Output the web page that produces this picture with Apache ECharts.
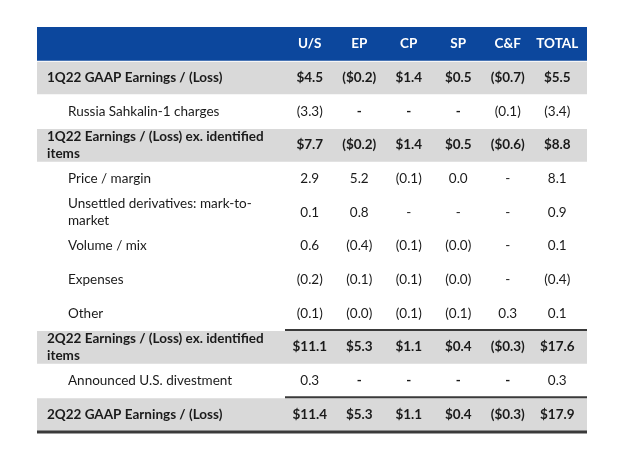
<!DOCTYPE html>
<html>
<head>
<meta charset="utf-8">
<script src="https://cdn.jsdelivr.net/npm/echarts@6/dist/echarts.min.js"></script>
<style>html,body{margin:0;padding:0;background:#fff}#c{width:640px;height:474px}</style>
</head>
<body>
<div id="c"></div>
<script>
// ---- data ----
const columns = ['U/S', 'EP', 'CP', 'SP', 'C&F', 'TOTAL'];
const rowLabels = [
  '1Q22 GAAP Earnings / (Loss)',
  'Russia Sahkalin-1 charges',
  '1Q22 Earnings / (Loss) ex. identified\nitems',
  'Price / margin',
  'Unsettled derivatives: mark-to-\nmarket',
  'Volume / mix',
  'Expenses',
  'Other',
  '2Q22 Earnings / (Loss) ex. identified\nitems',
  'Announced U.S. divestment',
  '2Q22 GAAP Earnings / (Loss)'
];
const rowIsTotal = [true, false, true, false, false, false, false, false, true, false, true];
const rowIsIdentified = [false, true, false, false, false, false, false, false, false, true, false];
const rowLineAbove = [false, false, false, false, false, false, false, false, true, false, true];

const gaap1Q22 = [4.5, -0.2, 1.4, 0.5, -0.7, 5.5];
const russiaSakhalin = [-3.3, null, null, null, -0.1, -3.4];
const exItems1Q22 = [7.7, -0.2, 1.4, 0.5, -0.6, 8.8];
const priceMargin = [2.9, 5.2, -0.1, 0.0, null, 8.1];
const unsettledDerivatives = [0.1, 0.8, null, null, null, 0.9];
const volumeMix = [0.6, -0.4, -0.1, -0.0, null, 0.1];
const expenses = [-0.2, -0.1, -0.1, -0.0, null, -0.4];
const other = [-0.1, -0.0, -0.1, -0.1, 0.3, 0.1];
const exItems2Q22 = [11.1, 5.3, 1.1, 0.4, -0.3, 17.6];
const usDivestment = [0.3, null, null, null, null, 0.3];
const gaap2Q22 = [11.4, 5.3, 1.1, 0.4, -0.3, 17.9];

const rowValues = [gaap1Q22, russiaSakhalin, exItems1Q22, priceMargin, unsettledDerivatives,
  volumeMix, expenses, other, exItems2Q22, usDivestment, gaap2Q22];

// ---- styling ----
const FONT = 'Lato';
const BLUE = '#0c479d';
const GRAY = '#d9d9d9';
const TEXT = '#1a1a1a';
const LINE = '#3a3a3a';

const mctx = document.createElement('canvas').getContext('2d');
mctx.font = 'bold 100px ' + FONT;
const refW = mctx.measureText('2Q22 Earnings / (Loss) ex. identified').width;
const FS = Math.round(100 * 215 / refW * 4) / 4;

function fmt(v, total) {
  if (v === null) return '-';
  const neg = v < 0 || Object.is(v, -0);
  const s = (total ? '$' : '') + Math.abs(v).toFixed(1);
  return neg ? '(' + s + ')' : s;
}

const yCats = ['header'].concat(rowLabels);

const rowData = yCats.map((_, i) => [0, i]);
const cellData = [];
columns.forEach((c, ci) => cellData.push([ci, 0, c]));
rowValues.forEach((vals, ri) => {
  vals.forEach((v, ci) => cellData.push([ci, ri + 1, fmt(v, rowIsTotal[ri])]));
});

const LABEL_COL = 248;   // width of label column left of the value grid
const RIGHT_PAD = 5;

const chart = echarts.init(document.getElementById('c'), null, {renderer: 'canvas'});
chart.setOption({
  animation: false,
  grid: {left: 285, right: 58, top: 27, height: 404},
  xAxis: {type: 'category', data: columns, show: false},
  yAxis: {type: 'category', data: yCats, inverse: true, show: false},
  series: [
    {
      type: 'custom',
      data: rowData,
      z: 1,
      renderItem: function (params, api) {
        const i = api.value(1);
        const cs = params.coordSys;
        const yc = api.coord([0, i])[1];
        const h = api.size([0, 1])[1];
        const top = yc - h / 2;
        const x0 = cs.x - LABEL_COL;
        const x1 = cs.x + cs.width + RIGHT_PAD;
        const children = [];
        if (i === 0) {
          children.push({type: 'rect', shape: {x: x0, y: top, width: x1 - x0, height: h}, style: {fill: BLUE}});
          return {type: 'group', children: children};
        }
        const r = i - 1;
        if (rowIsTotal[r]) {
          children.push({type: 'rect', shape: {x: x0, y: top + 1, width: x1 - x0, height: h - 1}, style: {fill: GRAY}});
        }
        if (rowLineAbove[r]) {
          children.push({type: 'line', shape: {x1: cs.x, y1: top, x2: x1, y2: top}, style: {stroke: LINE, lineWidth: 2}});
        }
        if (r === rowLabels.length - 1) {
          children.push({type: 'line', shape: {x1: x0, y1: top + h + 1, x2: x1, y2: top + h + 1}, style: {stroke: LINE, lineWidth: 3}});
        }
        children.push({
          type: 'text',
          style: {
            x: x0 + (rowIsTotal[r] ? 10 : 31),
            y: yc,
            text: rowLabels[r],
            fill: TEXT,
            font: (rowIsTotal[r] ? 'bold ' : '') + FS + 'px ' + FONT,
            lineHeight: 17,
            align: 'left',
            verticalAlign: 'middle'
          }
        });
        return {type: 'group', children: children};
      }
    },
    {
      type: 'custom',
      data: cellData,
      z: 2,
      renderItem: function (params, api) {
        const ci = api.value(0);
        const ri = api.value(1);
        const p = api.coord([ci, ri]);
        const item = cellData[params.dataIndex];
        const header = ri === 0;
        const bold = header || rowIsTotal[ri - 1] || (item[2] === '-' && rowIsIdentified[ri - 1]);
        return {
          type: 'text',
          style: {
            x: p[0],
            y: p[1],
            text: item[2],
            fill: header ? '#ffffff' : TEXT,
            font: (bold ? 'bold ' : '') + FS + 'px ' + FONT,
            align: 'center',
            verticalAlign: 'middle'
          }
        };
      }
    }
  ]
});
</script>
</body>
</html>
